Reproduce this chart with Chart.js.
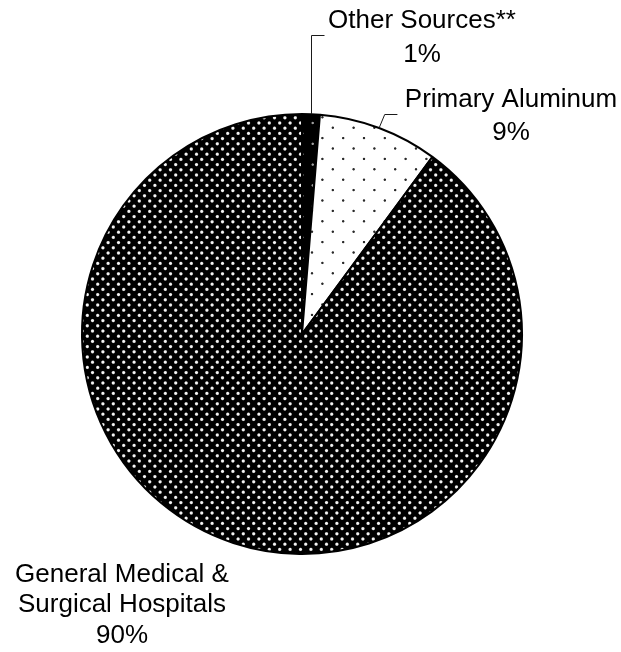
<!DOCTYPE html>
<html><head><meta charset="utf-8">
<script src="https://cdn.jsdelivr.net/npm/chart.js@4/dist/chart.umd.min.js"></script>
<style>html,body{margin:0;padding:0;background:#fff;} #wrap{width:621px;height:652px;}</style>
</head><body><div id="wrap"><canvas id="c" width="621" height="652"></canvas></div>
<script>
const categories = ['Other Sources**', 'Primary Aluminum', 'General Medical & Surgical Hospitals'];
const values = [1.3, 8.8, 89.9];
const percentLabels = ['1%', '9%', '90%'];
const labelLines = [['Other Sources**'], ['Primary Aluminum'], ['General Medical &', 'Surgical Hospitals']];

const canvas = document.getElementById('c');
const ctx0 = canvas.getContext('2d');

function makePattern(bg, dot, period, pts, rad) {
  const T = 104;
  const c = document.createElement('canvas'); c.width = T; c.height = T;
  const g = c.getContext('2d');
  g.fillStyle = bg; g.fillRect(0, 0, T, T);
  const n = Math.round(T / period);
  for (let i = -1; i <= n; i++) for (let j = -1; j <= n; j++) for (const p of pts) {
    const x = p[0] + i * period, y = p[1] + j * period;
    const gr = g.createRadialGradient(x, y, 0, x, y, rad);
    gr.addColorStop(0, dot); gr.addColorStop(0.45, dot); gr.addColorStop(1, bg);
    g.fillStyle = gr;
    g.beginPath(); g.arc(x, y, rad, 0, Math.PI * 2); g.fill();
  }
  return ctx0.createPattern(c, 'repeat');
}

const patOther = makePattern('#000000', '#a0a0a0', 20.8, [[0.7, 19], [11.1, 8.6]], 1.7);
const patPrimary = makePattern('#ffffff', '#2a2a2a', 20.8, [[0, 2.9], [10.4, 13.3]], 1.7);
const patGeneral = makePattern('#000000', '#f4f4f4', 10.4, [[4.1, 3.4], [9.3, 8.6]], 2.2);

const labelCfg = [
  { cx: 422, baselines: [28, 62], leader: 'other' },
  { cx: 511, baselines: [107, 140], leader: 'primary' },
  { cx: 122, baselines: [582, 612, 643], leader: null }
];

const labelPlugin = {
  id: 'pieLabels',
  afterDraw(chart) {
    const ctx = chart.ctx;
    const meta = chart.getDatasetMeta(0);
    ctx.save();
    ctx.strokeStyle = '#1a1a1a';
    ctx.lineWidth = 1;
    meta.data.forEach((arc, i) => {
      const cfg = labelCfg[i];
      const mid = (arc.startAngle + arc.endAngle) / 2;
      const ax = arc.x + arc.outerRadius * Math.cos(mid);
      const ay = arc.y + arc.outerRadius * Math.sin(mid);
      if (cfg.leader === 'other') {
        const x = Math.round(ax) + 0.5;
        ctx.beginPath();
        ctx.moveTo(x, ay);
        ctx.lineTo(x, 35.5);
        ctx.lineTo(x + 13, 35.5);
        ctx.stroke();
      } else if (cfg.leader === 'primary') {
        ctx.beginPath();
        ctx.moveTo(ax, ay);
        ctx.lineTo(ax + 5.6, 114.5);
        ctx.lineTo(ax + 18.3, 114.5);
        ctx.stroke();
      }
      ctx.font = '26px "Liberation Sans", Arial, sans-serif';
      ctx.fillStyle = '#000';
      ctx.textAlign = 'center';
      ctx.textBaseline = 'alphabetic';
      const lines = labelLines[i].concat([percentLabels[i]]);
      lines.forEach((t, k) => ctx.fillText(t, cfg.cx, cfg.baselines[k]));
    });
    ctx.restore();
  }
};

new Chart(canvas, {
  type: 'pie',
  data: {
    labels: categories,
    datasets: [{
      data: values,
      backgroundColor: [patOther, patPrimary, patGeneral],
      borderColor: '#000000',
      borderWidth: 2
    }]
  },
  options: {
    responsive: false,
    animation: false,
    layout: { padding: { left: 81, right: 98, top: 113, bottom: 97 } },
    plugins: { legend: { display: false }, tooltip: { enabled: false } }
  },
  plugins: [labelPlugin]
});
</script></body></html>
